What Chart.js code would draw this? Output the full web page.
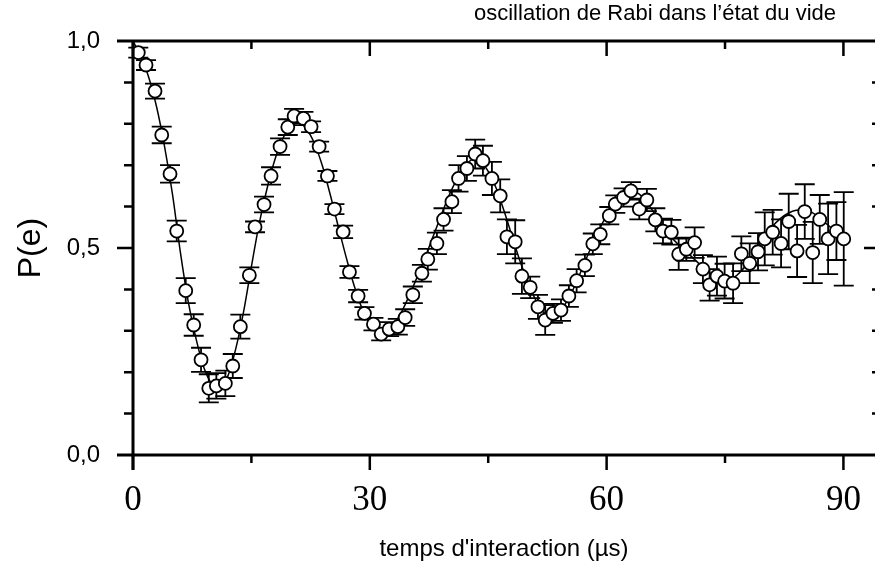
<!DOCTYPE html>
<html>
<head>
<meta charset="utf-8">
<script src="https://cdn.jsdelivr.net/npm/chart.js@4.4.1/dist/chart.umd.min.js"></script>
<style>
  html, body { margin: 0; padding: 0; background: #fff; overflow: hidden; }
  #wrap { width: 875px; height: 569px; position: relative; }
</style>
</head>
<body>
<div id="wrap"><canvas id="c"></canvas></div>
<script>
// ---- data ----
const chartTitle = "oscillation de Rabi dans l\u2019état du vide";
const xTitle = "temps d'interaction (µs)";
const yTitle = "P(e)";
const xTickLabels = { 0: "0", 30: "30", 60: "60", 90: "90" };
const yTickLabels = { 0: "0,0", 5: "0,5", 10: "1,0" };

const tData = [0.67,1.65,2.79,3.64,4.69,5.54,6.68,7.69,8.62,9.60,
  10.56,11.70,12.64,13.60,14.74,15.46,16.60,17.49,18.63,19.61,
  20.41,21.59,22.56,23.58,24.63,25.52,26.62,27.42,28.52,29.32,
  30.46,31.44,32.45,33.55,34.48,35.45,36.60,37.35,38.50,39.34,
  40.40,41.24,42.30,43.35,44.33,45.47,46.52,47.37,48.42,49.27,
  50.32,51.30,52.22,53.20,54.22,55.22,56.20,57.25,58.25,59.20,
  60.34,61.10,62.15,63.08,64.14,65.10,66.17,67.14,68.20,69.13,
  70.10,71.15,72.20,73.05,73.98,74.95,76.02,77.07,78.13,79.18,
  80.03,81.04,82.10,83.07,84.13,85.10,86.11,87.00,88.06,89.11,90.04];

const pData = [0.972,0.942,0.879,0.773,0.679,0.541,0.397,0.314,0.230,0.161,
  0.167,0.173,0.215,0.310,0.434,0.551,0.605,0.674,0.745,0.792,
  0.819,0.813,0.793,0.745,0.674,0.594,0.539,0.442,0.384,0.342,
  0.316,0.292,0.304,0.310,0.332,0.387,0.439,0.473,0.511,0.569,
  0.612,0.668,0.692,0.727,0.711,0.668,0.626,0.527,0.515,0.432,
  0.405,0.358,0.326,0.342,0.350,0.384,0.421,0.458,0.510,0.533,
  0.578,0.606,0.622,0.638,0.594,0.616,0.568,0.541,0.538,0.485,
  0.497,0.513,0.449,0.411,0.432,0.420,0.415,0.486,0.463,0.491,
  0.522,0.538,0.511,0.564,0.493,0.588,0.489,0.569,0.522,0.541,0.522];

const errData = [0.012,0.012,0.018,0.020,0.021,0.025,0.030,0.026,0.029,0.034,
  0.031,0.031,0.029,0.029,0.019,0.013,0.019,0.021,0.020,0.019,
  0.017,0.016,0.013,0.012,0.012,0.012,0.015,0.014,0.015,0.015,
  0.015,0.015,0.017,0.019,0.020,0.020,0.020,0.025,0.026,0.027,
  0.028,0.032,0.030,0.035,0.036,0.040,0.040,0.042,0.052,0.043,
  0.026,0.029,0.036,0.023,0.026,0.026,0.028,0.026,0.025,0.024,
  0.021,0.021,0.022,0.021,0.025,0.027,0.028,0.030,0.030,0.038,
  0.028,0.037,0.034,0.038,0.047,0.042,0.048,0.042,0.048,0.045,
  0.064,0.054,0.058,0.067,0.063,0.066,0.074,0.059,0.085,0.070,0.113];

const curveT = [0,1,2,3,4,5,6,7,8,9,10,11,12,13,14,15,16,17,18,19,20,
  21,22,23,24,25,26,27,28,29,30,31,32,33,34,35,36,37,38,39,40,
  41,42,43,44,45,46,47,48,49,50,51,52,53,54,55,56,57,58,59,60,
  61,62,63,64,65,66,67,68,69,70,71,72,73,74,75,76,77,78,79,80,
  81,82,83,84,85,86,87,88,89,90];
const curveP = [1.000,0.962,0.912,0.840,0.745,0.630,0.490,0.370,0.280,0.210,0.172,
  0.165,0.190,0.255,0.345,0.455,0.560,0.645,0.715,0.765,0.795,
  0.802,0.787,0.752,0.698,0.628,0.552,0.478,0.410,0.355,0.318,
  0.300,0.298,0.315,0.345,0.385,0.430,0.477,0.527,0.577,0.625,
  0.665,0.695,0.713,0.710,0.685,0.645,0.590,0.530,0.470,0.420,
  0.375,0.345,0.335,0.345,0.372,0.410,0.455,0.500,0.542,0.578,
  0.607,0.627,0.637,0.632,0.613,0.585,0.555,0.530,0.510,0.493,
  0.475,0.457,0.441,0.428,0.422,0.427,0.443,0.468,0.498,0.527,
  0.552,0.571,0.584,0.591,0.592,0.586,0.573,0.556,0.538,0.522];

const xMin = 0, xMax = 94, xStep = 15;
const yMin = 0, yMax = 1, yStep = 0.1;

// ---- build datasets ----
const points = tData.map((t, i) => ({ x: t, y: pData[i] }));
const curve = curveT.map((t, i) => ({ x: t, y: curveP[i] }));

const SANS = "'Liberation Sans', Arial, Helvetica, sans-serif";
const SERIF = "'Liberation Serif', 'Times New Roman', serif";

const errorBars = {
  id: 'errorBars',
  beforeDatasetsDraw(chart) {
    const { ctx, scales: { x, y } } = chart;
    ctx.save();
    ctx.strokeStyle = '#000';
    ctx.lineWidth = 1.8;
    const cap = 10;
    tData.forEach((t, i) => {
      const px = x.getPixelForValue(t);
      const yTop = y.getPixelForValue(pData[i] + errData[i]);
      const yBot = y.getPixelForValue(pData[i] - errData[i]);
      ctx.beginPath();
      ctx.moveTo(px, yTop); ctx.lineTo(px, yBot);
      ctx.moveTo(px - cap, yTop); ctx.lineTo(px + cap, yTop);
      ctx.moveTo(px - cap, yBot); ctx.lineTo(px + cap, yBot);
      ctx.stroke();
    });
    ctx.restore();
  }
};

const frame = {
  id: 'frame',
  afterDatasetsDraw(chart) {
    const { ctx, chartArea: a, scales: { x, y } } = chart;
    ctx.save();
    ctx.strokeStyle = '#000';
    ctx.lineWidth = 3;
    ctx.lineCap = 'butt';
    ctx.beginPath();
    ctx.moveTo(117, a.top); ctx.lineTo(a.right, a.top);
    ctx.moveTo(117, a.bottom); ctx.lineTo(a.right, a.bottom);
    ctx.moveTo(a.left, a.top - 1.5); ctx.lineTo(a.left, a.bottom + 15);
    ctx.stroke();

    ctx.lineWidth = 2.5;
    ctx.beginPath();
    for (let v = xMin; v <= 90 + 1e-9; v += xStep) {
      const px = x.getPixelForValue(v);
      const major = Math.abs(v % 30) < 1e-6;
      ctx.moveTo(px, a.bottom); ctx.lineTo(px, a.bottom + (major ? 15 : 8));
      ctx.moveTo(px, a.top); ctx.lineTo(px, a.top + (major ? 15 : 8));
    }
    for (let k = 1; k < 10; k++) {
      const py = y.getPixelForValue(k * yStep);
      const major = k === 5;
      ctx.moveTo(a.left - (major ? 16 : 9), py); ctx.lineTo(a.left, py);
      ctx.moveTo(a.right - (major ? 11 : 3), py); ctx.lineTo(a.right, py);
    }
    ctx.stroke();

    ctx.fillStyle = '#000';
    ctx.font = "22px " + SANS;
    ctx.textAlign = 'right';
    ctx.textBaseline = 'middle';
    ctx.fillText(chartTitle, 836, 14);
    ctx.restore();
  }
};

new Chart(document.getElementById('c'), {
  type: 'scatter',
  data: {
    datasets: [
      {
        label: 'fit',
        data: curve,
        showLine: true,
        borderColor: '#000',
        borderWidth: 1.5,
        pointRadius: 0,
        cubicInterpolationMode: 'monotone',
        fill: false,
        order: 2
      },
      {
        label: 'P(e)',
        data: points,
        showLine: false,
        pointRadius: 6.5,
        pointBackgroundColor: '#fff',
        pointBorderColor: '#000',
        pointBorderWidth: 1.8,
        order: 1
      }
    ]
  },
  options: {
    responsive: true,
    maintainAspectRatio: false,
    animation: false,
    devicePixelRatio: 1,
    layout: { autoPadding: false, padding: { top: 41, right: 0, left: 0, bottom: 0 } },
    plugins: { legend: { display: false }, tooltip: { enabled: false }, title: { display: false } },
    scales: {
      x: {
        type: 'linear',
        position: 'bottom',
        min: xMin, max: xMax,
        grid: { display: false, drawTicks: true, tickLength: 25 },
        border: { display: false },
        ticks: {
          stepSize: xStep,
          includeBounds: false,
          autoSkip: false,
          maxRotation: 0,
          padding: 0,
          color: '#000',
          font: { family: SERIF, size: 35 },
          callback: (v) => (xTickLabels[Math.round(v)] !== undefined && Math.abs(v - Math.round(v)) < 1e-6) ? xTickLabels[Math.round(v)] : ''
        },
        title: {
          display: true,
          text: xTitle,
          color: '#000',
          font: { family: SANS, size: 24 },
          padding: { top: 0, bottom: 5 }
        },
        afterFit: (s) => { s.height = 114; s.paddingLeft = 0; s.paddingRight = 0; }
      },
      y: {
        type: 'linear',
        position: 'left',
        min: yMin, max: yMax,
        grid: { display: false, drawTicks: true, tickLength: 33 },
        border: { display: false },
        ticks: {
          stepSize: yStep,
          autoSkip: false,
          padding: 0,
          color: '#000',
          font: { family: SANS, size: 24 },
          callback: (v) => {
            const k = Math.round(v * 10);
            return (Math.abs(v * 10 - k) < 1e-6 && yTickLabels[k] !== undefined) ? yTickLabels[k] : '';
          }
        },
        title: {
          display: true,
          text: yTitle,
          color: '#000',
          font: { family: SANS, size: 32 },
          padding: { top: 12, bottom: 0 }
        },
        afterFit: (s) => { s.width = 133; s.paddingTop = 0; s.paddingBottom = 0; s.paddingLeft = 0; s.paddingRight = 0; }
      }
    }
  },
  plugins: [errorBars, frame]
});
</script>
</body>
</html>
